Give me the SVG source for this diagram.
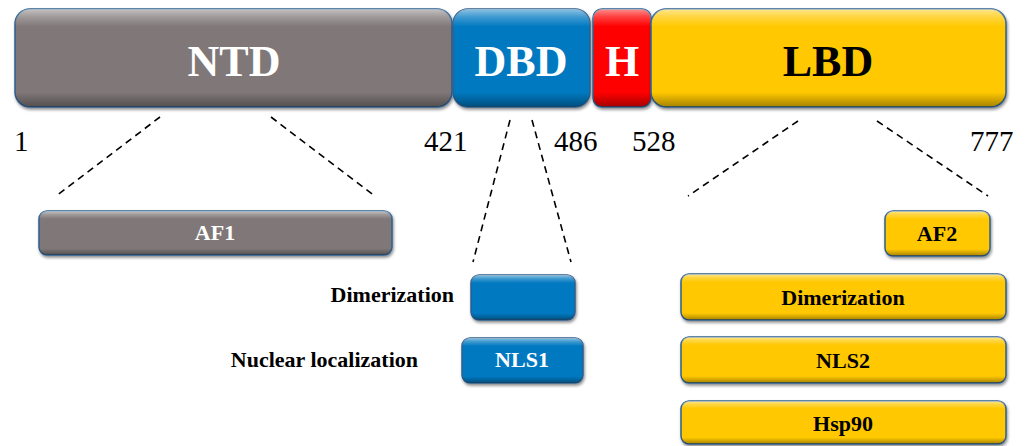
<svg xmlns="http://www.w3.org/2000/svg" width="1025" height="446" viewBox="0 0 1025 446">
<style>
.box{stroke:#2f5f8f;stroke-width:1.5;filter:url(#sh)}
.gray{fill:#807878}
.blue{fill:#0079c1}
.red{fill:#ff0000}
.yel{fill:#ffc800}
.bev{fill:url(#bevel);stroke:none;pointer-events:none}
.big{font-family:"Liberation Serif","Times New Roman",serif;font-weight:bold;font-size:44px;text-anchor:middle}
.num{font-family:"Liberation Serif","Times New Roman",serif;font-size:29px;fill:#000}
.lab{font-family:"Liberation Serif","Times New Roman",serif;font-weight:bold;font-size:22px;text-anchor:middle}
.side{font-family:"Liberation Serif","Times New Roman",serif;font-weight:bold;font-size:22px;text-anchor:end;fill:#000}
.dash{stroke:#000;stroke-width:1.6;stroke-dasharray:7,5;fill:none}
</style>
<defs>
<linearGradient id="bevel" x1="0" y1="0" x2="0" y2="1">
<stop offset="0" stop-color="#fff" stop-opacity="0.55"/>
<stop offset="0.08" stop-color="#fff" stop-opacity="0.25"/>
<stop offset="0.18" stop-color="#fff" stop-opacity="0"/>
<stop offset="0.85" stop-color="#000" stop-opacity="0"/>
<stop offset="1" stop-color="#000" stop-opacity="0.35"/>
</linearGradient>
<filter id="sh" x="-5%" y="-10%" width="110%" height="130%">
<feDropShadow dx="1" dy="2" stdDeviation="1.5" flood-color="#000" flood-opacity="0.45"/>
</filter>
</defs>
<rect width="1025" height="446" fill="#fff"/>

<g id="connectors">
<line class="dash" x1="160" y1="117" x2="56" y2="196"/>
<line class="dash" x1="271" y1="117" x2="376" y2="197"/>
<line class="dash" x1="510" y1="120" x2="473" y2="262"/>
<line class="dash" x1="532" y1="120" x2="571" y2="262"/>
<line class="dash" x1="798" y1="121" x2="688" y2="196"/>
<line class="dash" x1="877" y1="121" x2="988" y2="196"/>
</g>

<g id="NTD">
<rect class="box gray" x="15" y="9" width="437" height="98" rx="15"/>
<rect class="bev" x="15" y="9" width="437" height="98" rx="15"/>
<text class="big" x="234" y="76" fill="#fff">NTD</text>
</g>
<g id="DBD">
<rect class="box blue" x="453" y="9" width="137" height="98" rx="15"/>
<rect class="bev" x="453" y="9" width="137" height="98" rx="15"/>
<text class="big" x="521" y="76" fill="#fff">DBD</text>
</g>
<g id="H">
<rect class="box red" x="593" y="9" width="58" height="98" rx="9"/>
<rect class="bev" x="593" y="9" width="58" height="98" rx="9"/>
<text class="big" x="622" y="76" fill="#fff">H</text>
</g>
<g id="LBD">
<rect class="box yel" x="651" y="9" width="355" height="98" rx="15"/>
<rect class="bev" x="651" y="9" width="355" height="98" rx="15"/>
<text class="big" x="828" y="76" fill="#000">LBD</text>
</g>

<g id="numbers">
<text class="num" x="14" y="151">1</text>
<text class="num" x="424" y="151">421</text>
<text class="num" x="554" y="151">486</text>
<text class="num" x="632" y="151">528</text>
<text class="num" x="970" y="151">777</text>
</g>

<g id="AF1">
<rect class="box gray" x="39" y="211" width="353" height="44" rx="8"/>
<rect class="bev" x="39" y="211" width="353" height="44" rx="8"/>
<text class="lab" x="215" y="240" fill="#fff">AF1</text>
</g>
<g id="AF2">
<rect class="box yel" x="885" y="211" width="105" height="45" rx="8"/>
<rect class="bev" x="885" y="211" width="105" height="45" rx="8"/>
<text class="lab" x="937" y="241" fill="#000">AF2</text>
</g>
<g id="DBD-dimerization">
<rect class="box blue" x="471" y="275" width="104" height="45" rx="8"/>
<rect class="bev" x="471" y="275" width="104" height="45" rx="8"/>
<text class="side" x="454" y="302">Dimerization</text>
</g>
<g id="NLS1">
<rect class="box blue" x="462" y="338" width="121" height="45" rx="8"/>
<rect class="bev" x="462" y="338" width="121" height="45" rx="8"/>
<text class="lab" x="522" y="367" fill="#fff">NLS1</text>
<text class="side" x="418" y="367">Nuclear localization</text>
</g>
<g id="LBD-dimerization">
<rect class="box yel" x="681" y="274" width="325" height="46" rx="8"/>
<rect class="bev" x="681" y="274" width="325" height="46" rx="8"/>
<text class="lab" x="843" y="305" fill="#000">Dimerization</text>
</g>
<g id="NLS2">
<rect class="box yel" x="681" y="337" width="325" height="46" rx="8"/>
<rect class="bev" x="681" y="337" width="325" height="46" rx="8"/>
<text class="lab" x="843" y="368" fill="#000">NLS2</text>
</g>
<g id="Hsp90">
<rect class="box yel" x="681" y="401" width="325" height="43" rx="8"/>
<rect class="bev" x="681" y="401" width="325" height="43" rx="8"/>
<text class="lab" x="843" y="431" fill="#000">Hsp90</text>
</g>
</svg>
